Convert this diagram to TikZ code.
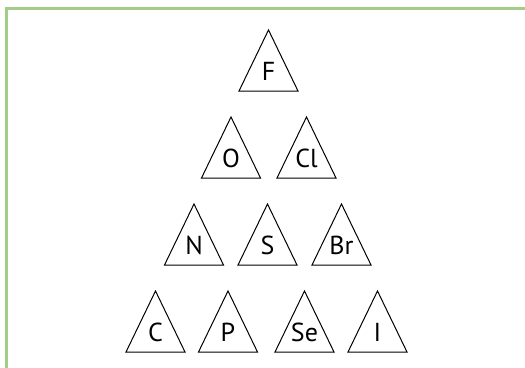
\documentclass[tikz,border=0pt]{standalone}
\usepackage{fontspec}
\setmainfont{PT Sans}
\definecolor{FrameGreen}{HTML}{A2CC88}
\tikzset{
  elem/.style={font=\fontsize{26}{26}\selectfont, anchor=base, inner sep=0pt},
  tri/.style={line width=1pt, line join=miter},
}
\begin{document}
\begin{tikzpicture}[x=1pt,y=-1pt]
  \useasboundingbox (0,0) rectangle (525,367);
  % frame, open to the right and bottom
  \draw[FrameGreen,line width=2.8pt] (6.2,380) -- (6.2,8.7) -- (540,8.7);
  % triangles: apex x / apex y / symbol
  \foreach \x/\y/\sym in {268.5/30/F,
      231/117/O, 306.5/117/Cl,
      194/204/N, 267.5/204/S, 341.5/204/Br,
      155.5/291/C, 228/291/P, 304.5/291/Se, 377.5/291/I}{
    \draw[tri] ({\x-29.5},{\y+61}) -- (\x,\y) -- ({\x+29.5},{\y+61}) -- cycle;
    \node[elem] (el\sym) at (\x,{\y+50}) {\sym};
  }
\end{tikzpicture}
\end{document}
